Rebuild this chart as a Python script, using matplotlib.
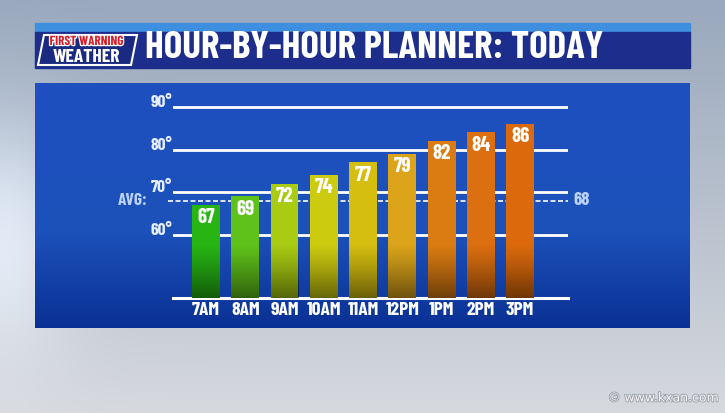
import numpy as np
import matplotlib
matplotlib.use("Agg")
import matplotlib.pyplot as plt
from matplotlib.patches import Rectangle, Polygon
import matplotlib.patheffects as pe

# data
hours = ["7AM", "8AM", "9AM", "10AM", "11AM", "12PM", "1PM", "2PM", "3PM"]
temps = [67, 69, 72, 74, 77, 79, 82, 84, 86]
bar_colors = ["#27b514", "#5fc21a", "#a9cb12", "#cdcb10", "#d5be10",
              "#dba41a", "#db7c12", "#dc6f10", "#dc6a0c"]
grid_levels = [60, 70, 80, 90]
avg_temp = 68
title = "HOUR-BY-HOUR PLANNER: TODAY"

W, H = 725, 413
FONT = dict(family=["Barlow Condensed", "DejaVu Sans"], fontweight="bold")

fig = plt.figure(figsize=(W / 100, H / 100), dpi=100)

# background axes in pixel coords
bg = fig.add_axes([0, 0, 1, 1])
bg.set_xlim(0, W)
bg.set_ylim(H, 0)
bg.axis("off")

# sky-ish backdrop
yy, xx = np.mgrid[0:H, 0:W] / np.array([H, W])[:, None, None]
top = np.array([0.60, 0.66, 0.74])
bot = np.array([0.84, 0.85, 0.87])
sky = top[None, None, :] * (1 - yy[..., None]) + bot[None, None, :] * yy[..., None]
haze = np.exp(-((xx - 0.0) ** 2) / 0.01 - ((yy - 0.55) ** 2) / 0.08)
sky = np.clip(sky + haze[..., None] * 0.15, 0, 1)
bg.imshow(sky, extent=(0, W, H, 0), aspect="auto", zorder=0)

# header bar
bg.add_patch(Rectangle((35, 23), 655, 9, color="#3f8fe0", zorder=1))
bg.add_patch(Rectangle((35, 32), 655, 36, color="#1c2d8c", zorder=1))

# logo
bg.add_patch(Polygon([[44, 35], [137, 35], [131, 65], [38, 65]], closed=True,
                     facecolor="#1a2a80", edgecolor="white", lw=1.5, zorder=2))
bg.text(87, 41.5, "FIRST WARNING", color="#d8202a", fontsize=9.5, ha="center",
        va="center", zorder=3, **FONT,
        path_effects=[pe.withStroke(linewidth=1.8, foreground="white")])
bg.text(86, 57, "WEATHER", color="white", fontsize=14, ha="center",
        va="center", zorder=3, **FONT)
bg.text(145, 48, title, color="white", fontsize=28, ha="left", va="center",
        zorder=3, **FONT)

# blue panel with gradient
g = np.linspace(0, 1, 256)[:, None]
c_top = np.array([0.12, 0.31, 0.75])
c_mid = np.array([0.11, 0.32, 0.73])
c_bot = np.array([0.04, 0.19, 0.58])
panel = np.where(g < 0.6, c_top + (c_mid - c_top) * (g / 0.6),
                 c_mid + (c_bot - c_mid) * ((g - 0.6) / 0.4))
panel = np.repeat(panel[:, None, :], 2, axis=1).reshape(256, 2, 3)
bg.imshow(panel, extent=(35, 690, 328, 83), aspect="auto", zorder=1)

# watermark
bg.text(719, 398, "\u00a9 www.kxan.com", color="#f4f4f4", fontsize=9,
        ha="right", va="center", family="DejaVu Sans",
        path_effects=[pe.withStroke(linewidth=1.2, foreground="#9aa0a8")])

# chart axes
ymin, ymax = 45.2, 92.5
px_per_deg = (235 - 107) / 30
y_top_px = 298 - (ymax - ymin) * px_per_deg
ax = fig.add_axes([173 / W, (H - 298) / H, (568 - 173) / W, (298 - y_top_px) / H])
ax.axis("off")
ax.patch.set_alpha(0)

for lv in grid_levels:
    ax.axhline(lv, color="white", lw=2, zorder=1)
    ax.text(-0.86, lv + 1.0, f"{lv}\u00b0", color="#e6efff", fontsize=12.5,
            ha="right", va="center", **FONT)
ax.axhline(ymin, color="white", lw=2.2, zorder=1, clip_on=False)

ax.plot([-0.97, 9.22], [avg_temp, avg_temp], color="white", lw=1.2,
        ls=(0, (3, 1.5)), zorder=1, clip_on=False)
ax.text(-1.50, avg_temp, "AVG:", color="#bcd2ff", fontsize=12.5, ha="right",
        va="center", **FONT)
ax.text(9.36, avg_temp, str(avg_temp), color="#bcd2ff", fontsize=13.5,
        ha="left", va="center", **FONT)

x = np.arange(len(hours))
bw = 0.71
ax.bar(x, [t - ymin for t in temps], bottom=ymin, width=bw,
       color=bar_colors, zorder=2)

# darken bar bottoms
shade = np.zeros((64, 1, 4))
ramp = np.linspace(0, 1, 64)
shade[:, 0, 3] = ramp ** 1.2 * 0.5
for xi in x:
    ax.imshow(shade, extent=(xi - bw / 2, xi + bw / 2, ymin, 58),
              aspect="auto", origin="upper", zorder=3, interpolation="bilinear")

for xi, t in zip(x, temps):
    ax.text(xi, t - 3.0, str(t), color="white", fontsize=15, ha="center",
            va="center", zorder=4, **FONT)
    ax.text(xi, ymin - 3.0, hours[xi], color="white", fontsize=14,
            ha="center", va="center", clip_on=False, **FONT)

ax.set_xlim(-0.84, 9.22)
ax.set_ylim(ymin, ymax)

fig.savefig("out.png", dpi=100)
